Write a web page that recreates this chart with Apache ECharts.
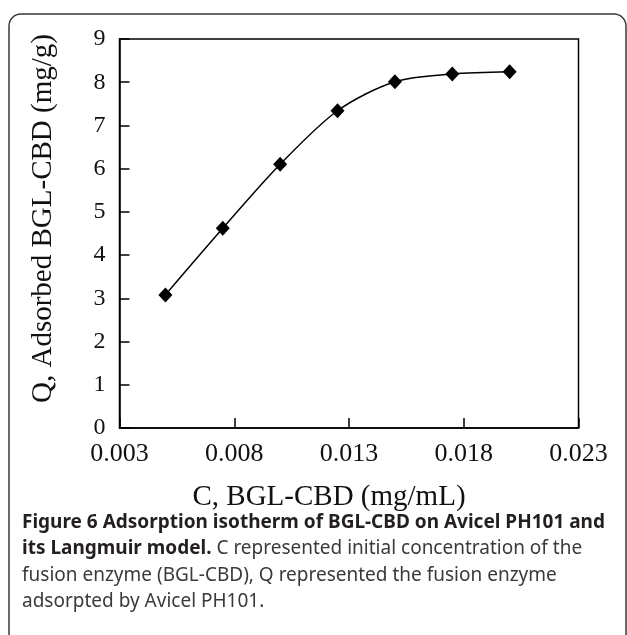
<!DOCTYPE html>
<html>
<head>
<meta charset="utf-8">
<script src="https://cdn.jsdelivr.net/npm/echarts@6/dist/echarts.min.js"></script>
<style>
html,body{margin:0;padding:0;background:#fff;}
#chart{width:627px;height:635px;}
</style>
</head>
<body>
<div id="chart"></div>
<script>
// ---- data ----
var concentrations = [0.005, 0.0075, 0.01, 0.0125, 0.015, 0.0175, 0.02];
var adsorbed = [3.08, 4.62, 6.10, 7.34, 8.01, 8.19, 8.24];
var xTickValues = [0.003, 0.008, 0.013, 0.018, 0.023];
var yTickValues = [0, 1, 2, 3, 4, 5, 6, 7, 8, 9];
var xAxisTitle = 'C, BGL-CBD (mg/mL)';
var yAxisTitle = 'Q, Adsorbed BGL-CBD (mg/g)';
var captionLines = [
  [{b: 'Figure 6 Adsorption isotherm of BGL-CBD on Avicel PH101 and'}],
  [{b: 'its Langmuir model.'}, {n: ' C represented initial concentration of the'}],
  [{n: 'fusion enzyme (BGL-CBD), Q represented the fusion enzyme'}],
  [{n: 'adsorpted by Avicel PH101.'}]
];

var points = concentrations.map(function (c, i) { return [c, adsorbed[i]]; });

var serif = '"Liberation Serif", "Times New Roman", serif';
var sans = '"Noto Sans", "Open Sans", sans-serif';

function lineText(parts) {
  return parts.map(function (p) {
    return p.b !== undefined ? '{b|' + p.b + '}' : '{n|' + p.n + '}';
  }).join('');
}

var captionGraphics = captionLines.map(function (parts, i) {
  return {
    type: 'text',
    left: 22,
    top: 513 + i * 26.5,
    style: {
      text: lineText(parts),
      rich: {
        b: {fontFamily: sans, fontWeight: 'bold', fontSize: 19, fill: '#231f20'},
        n: {fontFamily: sans, fontWeight: 'normal', fontSize: 19, fill: '#3a3a3a'}
      }
    }
  };
});

var chart = echarts.init(document.getElementById('chart'), null, {renderer: 'canvas'});
chart.setOption({
  backgroundColor: '#fff',
  animation: false,
  graphic: [{
    type: 'rect',
    shape: {x: 9, y: 14, width: 617, height: 700, r: 12},
    style: {fill: 'none', stroke: '#3a3a3a', lineWidth: 1.5},
    silent: true
  }].concat(captionGraphics),
  grid: {left: 119.5, top: 39, width: 459, height: 389, show: true, borderColor: '#000', borderWidth: 1.5, backgroundColor: 'transparent'},
  xAxis: {
    type: 'value',
    min: 0.003,
    max: 0.023,
    name: xAxisTitle,
    nameLocation: 'middle',
    nameGap: 55,
    nameTextStyle: {fontFamily: serif, fontSize: 29, color: '#111', padding: [0, 40, 0, 0]},
    axisLine: {show: true, lineStyle: {color: '#000', width: 1.5}},
    axisTick: {show: true, inside: true, length: 10, customValues: xTickValues, lineStyle: {color: '#000', width: 1.5}},
    axisLabel: {
      customValues: xTickValues,
      margin: 13,
      fontFamily: serif, fontSize: 26, color: '#111',
      formatter: function (v) { return v.toFixed(3); }
    },
    splitLine: {show: false}
  },
  yAxis: {
    type: 'value',
    min: 0,
    max: 9,
    interval: 1,
    name: yAxisTitle,
    nameLocation: 'middle',
    nameGap: 62,
    nameTextStyle: {fontFamily: serif, fontSize: 29, color: '#111', padding: [0, 0, 0, 30]},
    axisLine: {show: true, lineStyle: {color: '#000', width: 1.5}},
    axisTick: {show: true, inside: true, length: 10, customValues: yTickValues, lineStyle: {color: '#000', width: 1.5}},
    axisLabel: {customValues: yTickValues, margin: 14, fontFamily: serif, fontSize: 24, color: '#111'},
    splitLine: {show: false}
  },
  series: [{
    type: 'line',
    data: points,
    smooth: 0.3,
    symbol: 'diamond',
    symbolSize: [14, 15],
    itemStyle: {color: '#000'},
    lineStyle: {color: '#000', width: 1.5}
  }]
});
</script>
</body>
</html>
